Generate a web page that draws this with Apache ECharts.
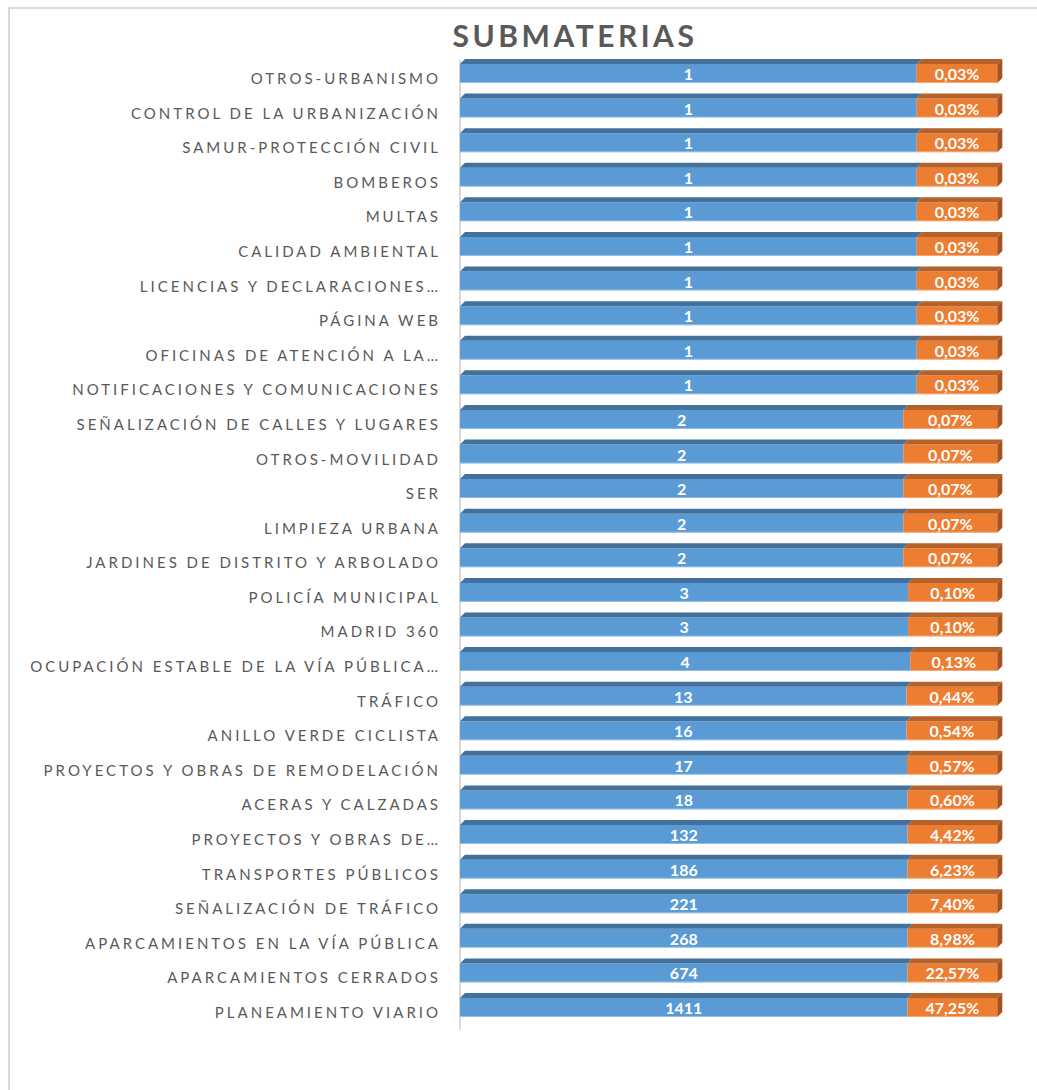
<!DOCTYPE html>
<html>
<head>
<meta charset="utf-8">
<title>Submaterias</title>
<script src="https://cdn.jsdelivr.net/npm/echarts@6/dist/echarts.min.js"></script>
<style>
  html, body { margin: 0; padding: 0; background: #fff; }
  #chart { width: 1037px; height: 1090px; }
  /* letter spacing for the category labels and the title (svg renderer) */
  #chart text[style*="sans-serif"] { letter-spacing: 3px; }
  #chart text[style*="Helvetica"] { letter-spacing: 3.5px; }
</style>
</head>
<body>
<div id="chart"></div>
<script>
// categories, top to bottom
const categories = [
  'OTROS-URBANISMO', 'CONTROL DE LA URBANIZACIÓN', 'SAMUR-PROTECCIÓN CIVIL', 'BOMBEROS',
  'MULTAS', 'CALIDAD AMBIENTAL', 'LICENCIAS Y DECLARACIONES…', 'PÁGINA WEB',
  'OFICINAS DE ATENCIÓN A LA…', 'NOTIFICACIONES Y COMUNICACIONES', 'SEÑALIZACIÓN DE CALLES Y LUGARES',
  'OTROS-MOVILIDAD', 'SER', 'LIMPIEZA URBANA', 'JARDINES DE DISTRITO Y ARBOLADO',
  'POLICÍA MUNICIPAL', 'MADRID 360', 'OCUPACIÓN ESTABLE DE LA VÍA PÚBLICA…', 'TRÁFICO',
  'ANILLO VERDE CICLISTA', 'PROYECTOS Y OBRAS DE REMODELACIÓN', 'ACERAS Y CALZADAS',
  'PROYECTOS Y OBRAS DE…', 'TRANSPORTES PÚBLICOS', 'SEÑALIZACIÓN DE TRÁFICO',
  'APARCAMIENTOS EN LA VÍA PÚBLICA', 'APARCAMIENTOS CERRADOS', 'PLANEAMIENTO VIARIO'
];
// number of cases
const counts = [1, 1, 1, 1, 1, 1, 1, 1, 1, 1, 2, 2, 2, 2, 2, 3, 3, 4, 13, 16, 17, 18, 132, 186, 221, 268, 674, 1411];
// share of total (%)
const percents = [0.03, 0.03, 0.03, 0.03, 0.03, 0.03, 0.03, 0.03, 0.03, 0.03, 0.07, 0.07, 0.07, 0.07, 0.07,
  0.10, 0.10, 0.13, 0.44, 0.54, 0.57, 0.60, 4.42, 6.23, 7.40, 8.98, 22.57, 47.25];
// width of the orange segment, as % of the full (100% stacked) bar
const orangeShare = [15.0, 15.0, 15.0, 15.0, 15.0, 15.0, 15.0, 15.0, 15.0, 15.0, 17.5, 17.5, 17.5, 17.5, 17.5,
  16.6, 16.6, 16.2, 16.9, 16.9, 16.8, 16.7, 16.7, 16.7, 16.7, 16.7, 16.7, 16.7];

const fmtPct = v => v.toFixed(2).replace('.', ',') + '%';

const DX = 5, DY = 5;

function makeBar(front, top, side, labelFn) {
  return function (params, api) {
    const idx = api.value(2);
    const start = api.coord([api.value(0), idx]);
    const end = api.coord([api.value(1), idx]);
    const x0 = start[0], x1 = end[0], yc = start[1];
    const yt = yc - 14, h = 19;
    const children = [
      { type: 'rect', shape: { x: x0, y: yt, width: x1 - x0, height: h }, style: { fill: front } },
      { type: 'polygon', shape: { points: [[x0, yt], [x1, yt], [x1 + DX, yt - DY], [x0 + DX, yt - DY]] }, style: { fill: top } },
      { type: 'line', shape: { x1: x0, y1: yt + h - 0.5, x2: x1, y2: yt + h - 0.5 }, style: { stroke: 'rgba(255,255,255,0.35)', lineWidth: 1 } }
    ];
    if (side) {
      children.push({ type: 'polygon', shape: { points: [[x1, yt], [x1 + DX, yt - DY], [x1 + DX, yt + h - DY], [x1, yt + h]] }, style: { fill: side } });
    }
    children.push({
      type: 'text',
      x: (x0 + x1) / 2,
      y: yc - 4.5,
      style: {
        text: labelFn(params.dataIndex),
        fill: '#ffffff',
        font: 'bold 16px Lato, Arial',
        align: 'center',
        verticalAlign: 'middle'
      }
    });
    return { type: 'group', children: children };
  };
}

const chart = echarts.init(document.getElementById('chart'), null, { renderer: 'svg' });

chart.setOption({
  backgroundColor: '#ffffff',
  animation: false,
  title: {
    text: 'SUBMATERIAS',
    left: 570,
    top: 15,
    textAlign: 'center',
    textStyle: { color: '#595959', fontSize: 30, fontWeight: 'bold', fontFamily: 'Lato, Helvetica' }
  },
  graphic: [{
    type: 'rect',
    shape: { x: 9, y: 8, width: 1100, height: 1200 },
    style: { fill: 'none', stroke: '#d9d9d9', lineWidth: 2 },
    silent: true
  }],
  grid: { left: 460, right: 39.7, top: 60.7, bottom: 60.7 },
  xAxis: { type: 'value', min: 0, max: 100, show: false },
  yAxis: {
    type: 'category',
    data: categories,
    inverse: true,
    offset: 5,
    axisLine: { show: true, lineStyle: { color: '#d9d9d9', width: 2 } },
    axisTick: { show: false },
    axisLabel: {
      interval: 0,
      margin: 14,
      color: '#595959',
      fontSize: 15,
      fontFamily: 'Lato, sans-serif'
    }
  },
  series: [
    {
      type: 'custom',
      name: 'Casos',
      renderItem: makeBar('#5b9bd5', '#41719c', null, i => String(counts[i])),
      encode: { x: [0, 1], y: 2 },
      data: categories.map((c, i) => [0, 100 - orangeShare[i], i])
    },
    {
      type: 'custom',
      name: 'Porcentaje',
      renderItem: makeBar('#ed7d31', '#b4612a', '#a5521f', i => fmtPct(percents[i])),
      encode: { x: [0, 1], y: 2 },
      data: categories.map((c, i) => [100 - orangeShare[i], 100, i])
    }
  ]
});
</script>
</body>
</html>
